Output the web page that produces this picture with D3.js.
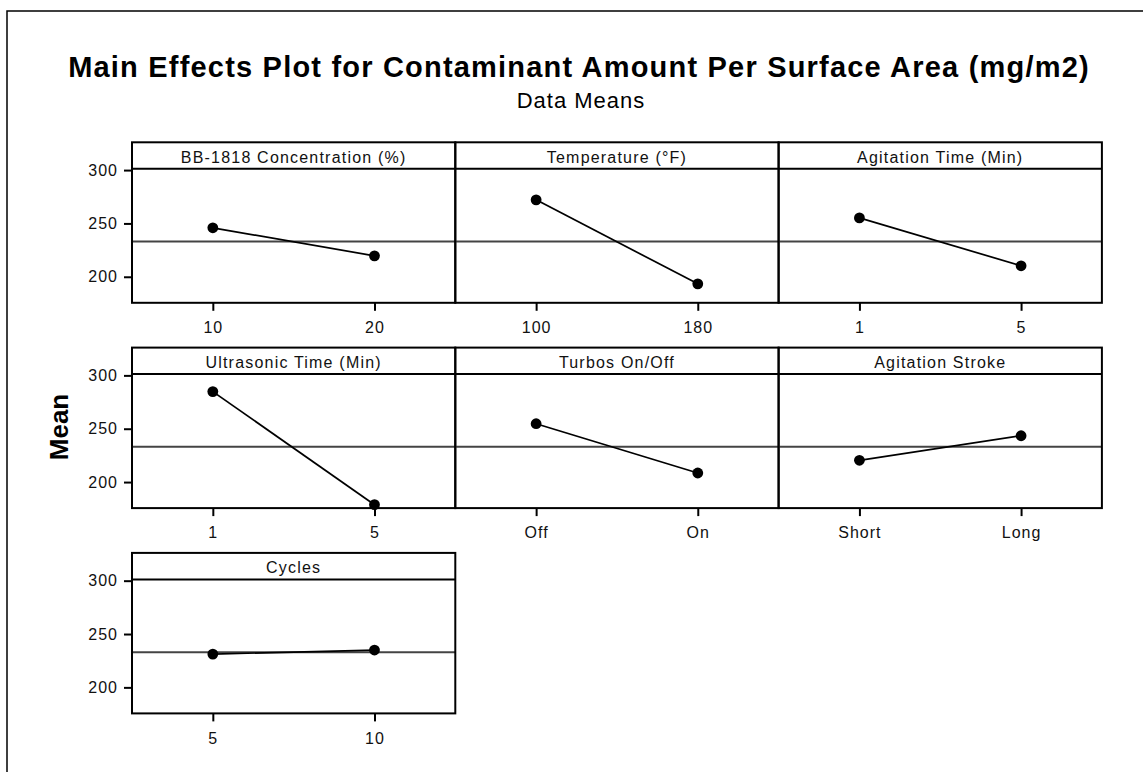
<!DOCTYPE html>
<html>
<head>
<meta charset="utf-8">
<script src="https://cdn.jsdelivr.net/npm/d3@7"></script>
<style>
  html, body { margin: 0; padding: 0; background: #fff; }
  svg { display: block; font-family: "Liberation Sans", Arial, sans-serif; }
</style>
</head>
<body>
<script>
// factors shown in the facets, read left to right, top to bottom
const factors = [
  'BB-1818 Concentration (%)',
  'Temperature (°F)',
  'Agitation Time (Min)',
  'Ultrasonic Time (Min)',
  'Turbos On/Off',
  'Agitation Stroke',
  'Cycles'
]

const levels = [
  ['10', '20'],
  ['100', '180'],
  ['1', '5'],
  ['1', '5'],
  ['Off', 'On'],
  ['Short', 'Long'],
  ['5', '10']
]

// data means per level (mg/m2)
const means = [
  [245.9, 219.6],
  [272.1, 193.4],
  [255.2, 210.3],
  [284.8, 178.8],
  [254.7, 208.5],
  [220.4, 243.4],
  [231.2, 235.0]
]

const grand_mean = 233
const y_ticks = [200, 250, 300]
const y_domain = [175.6, 301.2]

const width = 1143
const height = 772

const svg = d3.select('body').append('svg')
  .attr('viewBox', `0 0 ${width} ${height}`)
  .attr('width', width)
  .attr('height', height)

svg.append('rect')
  .attr('width', width).attr('height', height)
  .attr('fill', '#fff')

// outer frame, right and bottom edges fall off the picture
svg.append('rect')
  .attr('x', 7).attr('y', 11)
  .attr('width', width + 20).attr('height', height + 20)
  .attr('fill', 'none')
  .attr('stroke', '#000')
  .attr('stroke-width', 1.5)

svg.append('text')
  .attr('x', 579).attr('y', 77)
  .attr('text-anchor', 'middle')
  .attr('font-size', 29)
  .attr('font-weight', 'bold')
  .attr('letter-spacing', 1.2)
  .text('Main Effects Plot for Contaminant Amount Per Surface Area (mg/m2)')

svg.append('text')
  .attr('x', 581).attr('y', 108)
  .attr('text-anchor', 'middle')
  .attr('font-size', 22)
  .attr('letter-spacing', 1)
  .text('Data Means')

svg.append('text')
  .attr('transform', 'translate(68,427) rotate(-90)')
  .attr('text-anchor', 'middle')
  .attr('font-size', 26)
  .attr('font-weight', 'bold')
  .text('Mean')

const x0 = 132
const y0 = 142.3
const pw = 323.3
const ph = 160.5
const row_step = 205.3
const strip_h = 26.5
const ncol = 3

factors.forEach((name, i) => {
  const col = i % ncol
  const row = Math.floor(i / ncol)

  const g = svg.append('g')
    .attr('transform', `translate(${x0 + col * pw},${y0 + row * row_step})`)

  const x = d3.scalePoint()
    .domain(levels[i])
    .range([0, pw])
    .padding(0.5)

  const y = d3.scaleLinear()
    .domain(y_domain)
    .range([ph, strip_h])

  // grand mean reference
  g.append('line')
    .attr('x1', 0).attr('x2', pw)
    .attr('y1', y(grand_mean)).attr('y2', y(grand_mean))
    .attr('stroke', '#444')
    .attr('stroke-width', 2)

  const rows = levels[i].map((lv, j) => ({level: lv, mean: means[i][j]}))

  g.append('path')
    .datum(rows)
    .attr('fill', 'none')
    .attr('stroke', '#000')
    .attr('stroke-width', 1.7)
    .attr('d', d3.line().x(d => x(d.level)).y(d => y(d.mean)))

  g.selectAll('circle')
    .data(rows)
    .join('circle')
      .attr('cx', d => x(d.level))
      .attr('cy', d => y(d.mean))
      .attr('r', 5.4)
      .attr('fill', '#000')

  // panel box + strip
  g.append('rect')
    .attr('width', pw).attr('height', ph)
    .attr('fill', 'none')
    .attr('stroke', '#000')
    .attr('stroke-width', 2)

  g.append('line')
    .attr('x1', 0).attr('x2', pw)
    .attr('y1', strip_h).attr('y2', strip_h)
    .attr('stroke', '#000')
    .attr('stroke-width', 2)

  g.append('text')
    .attr('x', pw / 2).attr('y', strip_h - 6)
    .attr('text-anchor', 'middle')
    .attr('font-size', 16)
    .attr('letter-spacing', 1.2)
    .attr('fill', '#111')
    .text(name)

  g.append('g')
    .attr('transform', `translate(0,${ph})`)
    .call(d3.axisBottom(x).tickSize(8).tickPadding(11).tickSizeOuter(0))
    .call(a => a.select('.domain').remove())
    .call(a => a.selectAll('line').attr('stroke', '#000').attr('stroke-width', 2))
    .call(a => a.selectAll('text')
      .attr('font-size', 16).attr('letter-spacing', 1)
      .attr('font-family', null).attr('fill', '#111'))

  if (col == 0) {
    g.append('g')
      .call(d3.axisLeft(y).tickValues(y_ticks).tickSize(8).tickPadding(6))
      .call(a => a.select('.domain').remove())
      .call(a => a.selectAll('line').attr('stroke', '#000').attr('stroke-width', 2))
      .call(a => a.selectAll('text')
        .attr('font-size', 16).attr('letter-spacing', 1)
        .attr('font-family', null).attr('fill', '#111'))
  }
})
</script>
</body>
</html>
